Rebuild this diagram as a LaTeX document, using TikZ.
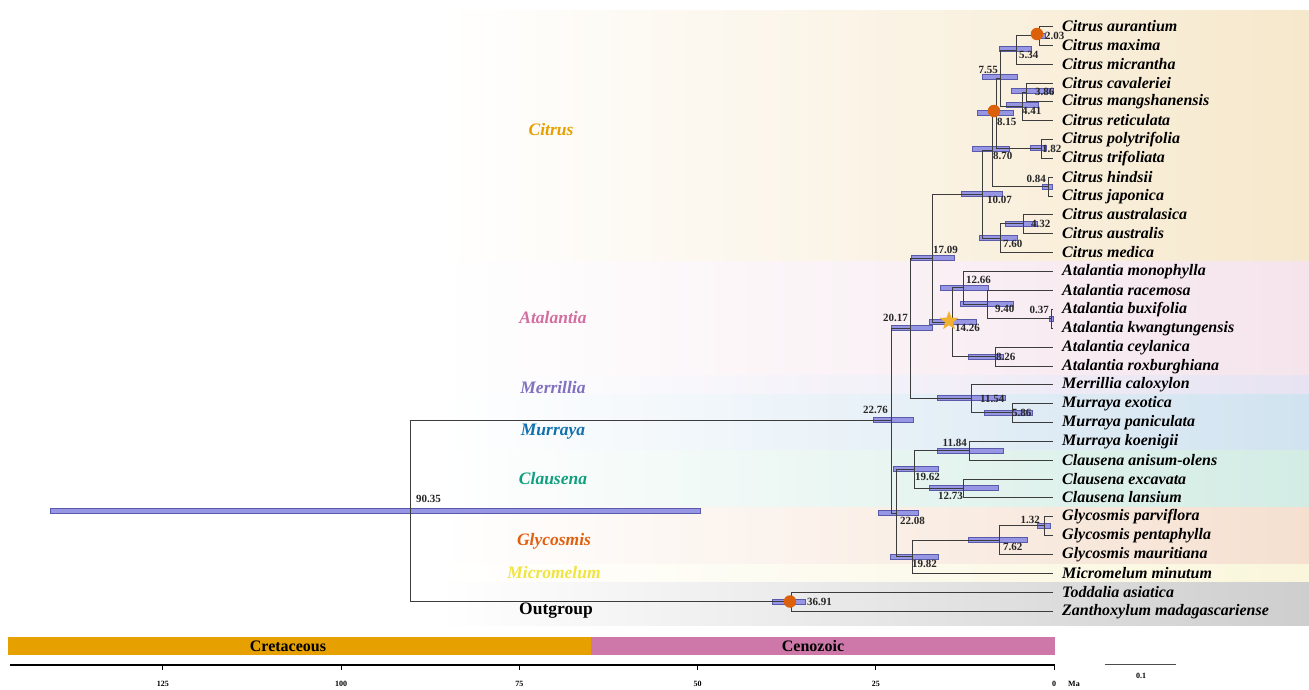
\documentclass[tikz,border=0pt]{standalone}
\usepackage{fontspec}
\setmainfont{Liberation Serif}
\usetikzlibrary{shapes.geometric}
\definecolor{cCit}{RGB}{246,232,204}
\definecolor{cAta}{RGB}{245,228,236}
\definecolor{cMer}{RGB}{231,227,242}
\definecolor{cMur}{RGB}{209,227,240}
\definecolor{cCla}{RGB}{210,236,228}
\definecolor{cGly}{RGB}{245,224,208}
\definecolor{cMic}{RGB}{250,246,220}
\definecolor{cOut}{RGB}{206,206,206}
\definecolor{tCit}{RGB}{232,160,0}
\definecolor{tAta}{RGB}{210,110,160}
\definecolor{tMer}{RGB}{128,112,192}
\definecolor{tMur}{RGB}{16,112,176}
\definecolor{tCla}{RGB}{16,160,128}
\definecolor{tGly}{RGB}{224,96,16}
\definecolor{tMic}{RGB}{240,228,64}
\definecolor{hpd}{RGB}{150,150,228}
\definecolor{hpdl}{RGB}{90,90,170}
\definecolor{branch}{RGB}{60,60,60}
\definecolor{markc}{RGB}{220,96,10}
\definecolor{starc}{RGB}{240,176,48}
\definecolor{cret}{RGB}{230,160,0}
\definecolor{ceno}{RGB}{205,120,168}
\tikzset{
  sp/.style={anchor=west,font=\fontsize{16}{16}\selectfont\bfseries\itshape,inner sep=0pt},
  age/.style={font=\fontsize{11}{11}\selectfont\bfseries,inner sep=0pt,text=black!85},
  clade/.style={font=\fontsize{17.5}{17.5}\selectfont\bfseries\itshape,inner sep=0pt},
  br/.style={draw=branch,line width=0.6pt},
  hpdbar/.style={fill=hpd,draw=hpdl,line width=0.3pt},
  dot/.style={circle,fill=markc,minimum size=12.5pt,inner sep=0pt},
  startag/.style={star,star points=5,star point ratio=2.4,fill=starc,minimum size=20pt,inner sep=0pt},
  tick/.style={line width=1pt}
}
\newcommand{\hpdrect}[3]{\fill[hpdbar] (#1,#3-2.5) rectangle (#2,#3+2.5);}
\begin{document}
\begin{tikzpicture}[x=1pt,y=-1pt]
\useasboundingbox (0,0) rectangle (1309,689);
\fill[white] (0,0) rectangle (1309,689);
% bands
\shade[left color=white,right color=cCit] (440,10) rectangle (1309,261);
\shade[left color=white,right color=cAta] (440,261) rectangle (1309,375);
\shade[left color=white,right color=cMer] (440,375) rectangle (1309,394);
\shade[left color=white,right color=cMur] (440,394) rectangle (1309,450);
\shade[left color=white,right color=cCla] (440,450) rectangle (1309,507);
\shade[left color=white,right color=cGly] (440,507) rectangle (1309,564);
\shade[left color=white,right color=cMic] (440,564) rectangle (1309,582);
\shade[left color=white,right color=cOut] (440,582) rectangle (1309,625);
% clade labels
\node[clade,text=tCit] (lCit) at (551,130) {Citrus};
\node[clade,text=tAta] (lAta) at (553,318) {Atalantia};
\node[clade,text=tMer] (lMer) at (553,388) {Merrillia};
\node[clade,text=tMur] (lMur) at (553,432) {Murraya};
\node[clade,text=tCla] (lCla) at (553,479) {Clausena};
\node[clade,text=tGly] (lGly) at (554,541) {Glycosmis};
\node[clade,text=tMic] (lMic) at (554,573) {Micromelum};
\node[font=\fontsize{17.5}{17.5}\selectfont\bfseries,inner sep=0pt] (lOut) at (556,611) {Outgroup};
% leaves
\foreach \n/\y/\t in {
 a1/26/Citrus aurantium, a2/45/Citrus maxima, a3/64/Citrus micrantha,
 a4/83/Citrus cavaleriei, a5/101/Citrus mangshanensis, a6/120/Citrus reticulata,
 a7/139/Citrus polytrifolia, a8/158/Citrus trifoliata, a9/177/Citrus hindsii,
 a10/196/Citrus japonica, a11/214/Citrus australasica, a12/233/Citrus australis,
 a13/252/Citrus medica, b1/271/Atalantia monophylla, b2/290/Atalantia racemosa,
 b3/309/Atalantia buxifolia, b4/328/Atalantia kwangtungensis, b5/347/Atalantia ceylanica,
 b6/366/Atalantia roxburghiana, c1/384/Merrillia caloxylon, c2/403/Murraya exotica,
 c3/422/Murraya paniculata, c4/441/Murraya koenigii, c5/460/Clausena anisum-olens,
 c6/479/Clausena excavata, c7/497/Clausena lansium, d1/516/Glycosmis parviflora,
 d2/535/Glycosmis pentaphylla, d3/554/Glycosmis mauritiana, d4/573/Micromelum minutum,
 e1/592/Toddalia asiatica, e2/611/Zanthoxylum madagascariense}{
 \coordinate (\n) at (1053,\y);
 \node[sp] (t\n) at (1062,\y+0.5) {\t};
}
% internal nodes (x = 1054 - 7.13*age)
\def\ax#1{{1054-7.13*#1}}
\coordinate (n203) at (\ax{2.03},35.5);
\coordinate (n534) at (\ax{5.34},50);
\coordinate (n386) at (\ax{3.86},92);
\coordinate (n441) at (\ax{4.41},106);
\coordinate (n755) at (\ax{7.55},78);
\coordinate (n182) at (\ax{1.82},148.5);
\coordinate (n815) at (\ax{8.15},113);
\coordinate (n084) at (\ax{0.84},186.5);
\coordinate (n870) at (\ax{8.70},150);
\coordinate (n432) at (\ax{4.32},223.5);
\coordinate (n760) at (\ax{7.60},238);
\coordinate (n1007) at (\ax{10.07},194);
\coordinate (n037) at (\ax{0.37},318.5);
\coordinate (n940) at (\ax{9.40},304);
\coordinate (n1266) at (\ax{12.66},287.5);
\coordinate (n826) at (\ax{8.26},356.5);
\coordinate (n1426) at (\ax{14.26},322);
\coordinate (n1709) at (\ax{17.09},258);
\coordinate (n586) at (\ax{5.86},412.5);
\coordinate (n1154) at (\ax{11.54},398);
\coordinate (n2017) at (\ax{20.17},328);
\coordinate (n1184) at (\ax{11.84},450.5);
\coordinate (n1273) at (\ax{12.73},488);
\coordinate (n1962) at (\ax{19.62},469);
\coordinate (n132) at (\ax{1.32},525.5);
\coordinate (n762) at (\ax{7.62},540);
\coordinate (n1982) at (\ax{19.82},556.5);
\coordinate (n2208) at (\ax{22.08},513);
\coordinate (n2276) at (\ax{22.76},420);
\coordinate (n3691) at (\ax{36.91},601.5);
\coordinate (n9035) at (\ax{90.35},511);
% HPD bars
\hpdrect{50}{700}{511}
\hpdrect{772}{805}{601.5}
\hpdrect{873}{913}{420}
\hpdrect{891}{932}{328}
\hpdrect{911}{954}{258}
\hpdrect{961}{1002}{194}
\hpdrect{972}{1009}{148.5}
\hpdrect{977}{1013}{113}
\hpdrect{982}{1017}{77}
\hpdrect{999}{1031}{49}
\hpdrect{1033}{1045}{35.5}
\hpdrect{1006}{1038}{105}
\hpdrect{1011}{1053}{91}
\hpdrect{1030}{1046}{148}
\hpdrect{1042}{1052}{186.5}
\hpdrect{979}{1017}{238}
\hpdrect{1005}{1037}{223.5}
\hpdrect{929}{976}{322}
\hpdrect{940}{988}{287.5}
\hpdrect{960}{1013}{304}
\hpdrect{1049}{1053}{318.5}
\hpdrect{968}{1003}{356.5}
\hpdrect{937}{1005}{398}
\hpdrect{984}{1032}{412.5}
\hpdrect{937}{1003}{450.5}
\hpdrect{893}{938}{469}
\hpdrect{929}{998}{488}
\hpdrect{878}{918}{513}
\hpdrect{1037}{1050}{525.5}
\hpdrect{968}{1027}{540}
\hpdrect{890}{938}{556.5}
% branches
\draw[br] (n203) |- (a1) (n203) |- (a2);
\draw[br] (n534) |- (n203) (n534) |- (a3);
\draw[br] (n386) |- (a4) (n386) |- (a5);
\draw[br] (n441) |- (n386) (n441) |- (a6);
\draw[br] (n755) |- (n534) (n755) |- (n441);
\draw[br] (n182) |- (a7) (n182) |- (a8);
\draw[br] (n815) |- (n755) (n815) |- (n182);
\draw[br] (n084) |- (a9) (n084) |- (a10);
\draw[br] (n870) |- (n815) (n870) |- (n084);
\draw[br] (n432) |- (a11) (n432) |- (a12);
\draw[br] (n760) |- (n432) (n760) |- (a13);
\draw[br] (n1007) |- (n870) (n1007) |- (n760);
\draw[br] (n037) |- (b3) (n037) |- (b4);
\draw[br] (n940) |- (b2) (n940) |- (n037);
\draw[br] (n1266) |- (b1) (n1266) |- (n940);
\draw[br] (n826) |- (b5) (n826) |- (b6);
\draw[br] (n1426) |- (n1266) (n1426) |- (n826);
\draw[br] (n1709) |- (n1007) (n1709) |- (n1426);
\draw[br] (n586) |- (c2) (n586) |- (c3);
\draw[br] (n1154) |- (c1) (n1154) |- (n586);
\draw[br] (n2017) |- (n1709) (n2017) |- (n1154);
\draw[br] (n1184) |- (c4) (n1184) |- (c5);
\draw[br] (n1273) |- (c6) (n1273) |- (c7);
\draw[br] (n1962) |- (n1184) (n1962) |- (n1273);
\draw[br] (n132) |- (d1) (n132) |- (d2);
\draw[br] (n762) |- (n132) (n762) |- (d3);
\draw[br] (n1982) |- (n762) (n1982) |- (d4);
\draw[br] (n2208) |- (n1962) (n2208) |- (n1982);
\draw[br] (n2276) |- (n2017) (n2276) |- (n2208);
\draw[br] (n3691) |- (e1) (n3691) |- (e2);
\draw[br] (n9035) |- (n2276) (n9035) |- (n3691);
% markers
\node[dot] (m203) at (1037,34) {};
\node[dot] (m815) at (994,111) {};
\node[dot] (m3691) at (790,601.5) {};
\node[startag] (s1426) at (949,321) {};
% age labels
\node[age,anchor=west] at (1045,36) {2.03};
\node[age,anchor=north west] at (1019,51) {5.34};
\node[age,anchor=south east] at (998,74) {7.55};
\node[age,anchor=west] at (1035,92) {3.86};
\node[age,anchor=north west] at (1022,107) {4.41};
\node[age,anchor=north west] at (997,118) {8.15};
\node[age,anchor=west] at (1042,149) {1.82};
\node[age,anchor=north west] at (993,152) {8.70};
\node[age,anchor=south east] at (1046,183) {0.84};
\node[age,anchor=north west] at (987,196) {10.07};
\node[age,anchor=west] at (1031,224) {4.32};
\node[age,anchor=north west] at (1003,240) {7.60};
\node[age,anchor=south west] at (933,254) {17.09};
\node[age,anchor=south west] at (966,284) {12.66};
\node[age,anchor=north west] at (995,305) {9.40};
\node[age,anchor=east] at (1049,310) {0.37};
\node[age,anchor=north west] at (955,324) {14.26};
\node[age,anchor=west] at (996,357) {8.26};
\node[age,anchor=west] at (980,399) {11.54};
\node[age,anchor=west] at (1012,413) {5.86};
\node[age,anchor=south east] at (908,322) {20.17};
\node[age,anchor=south east] at (888,414) {22.76};
\node[age,anchor=south east] at (967,447) {11.84};
\node[age,anchor=north west] at (915,473) {19.62};
\node[age,anchor=north east] at (963,492) {12.73};
\node[age,anchor=north west] at (900,517) {22.08};
\node[age,anchor=south east] at (1040,524) {1.32};
\node[age,anchor=north west] at (1003,543) {7.62};
\node[age,anchor=north west] at (912,560) {19.82};
\node[age,anchor=west] at (807,602) {36.91};
\node[age,anchor=south west] at (416,503) {90.35};
% periods
\fill[cret] (8,637) rectangle (591,655);
\fill[ceno] (591,637) rectangle (1055,655);
\node[font=\fontsize{16}{16}\selectfont\bfseries,inner sep=0pt] (pC) at (288,646) {Cretaceous};
\node[font=\fontsize{16}{16}\selectfont\bfseries,inner sep=0pt] (pZ) at (813,646) {Cenozoic};
% axis
\draw[line width=2pt] (10,665) -- (1055,665);
\foreach \a in {0,25,50,75,100,125}{
  \draw[tick] ({1054-7.13*\a},665) -- ({1054-7.13*\a},670);
  \node[font=\fontsize{8}{8}\selectfont\bfseries,inner sep=0pt] at ({1054-7.13*\a},684) {\a};
}
\node[font=\fontsize{8}{8}\selectfont\bfseries,inner sep=0pt,anchor=west] (ma) at (1068,684) {Ma};
\draw[draw=black!70,line width=1pt] (1105,664) -- (1176,664);
\node[font=\fontsize{8}{8}\selectfont\bfseries,inner sep=0pt] (sb) at (1141,676) {0.1};
\end{tikzpicture}
\end{document}
